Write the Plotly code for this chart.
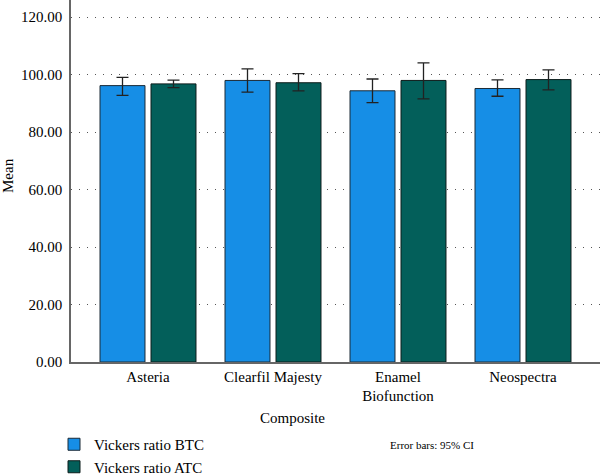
import plotly.graph_objects as go

categories = ["Asteria", "Clearfil Majesty", "Enamel<br>Biofunction", "Neospectra"]
btc_mean = [96.2, 98.0, 94.4, 95.2]
btc_upper = [99.1, 102.0, 98.5, 98.2]
btc_lower = [92.8, 93.9, 90.3, 92.5]
atc_mean = [96.8, 97.2, 98.0, 98.3]
atc_upper = [98.1, 100.4, 104.1, 101.7]
atc_lower = [95.5, 94.4, 91.6, 94.7]
y_ticks = [0, 20, 40, 60, 80, 100, 120]

FONT = "Liberation Serif"

def err(mean, up, lo, color="#222"):
    return dict(type="data", symmetric=False,
                array=[u - m for u, m in zip(up, mean)],
                arrayminus=[m - l for m, l in zip(mean, lo)],
                color=color, thickness=1.3, width=6)

fig = go.Figure()
fig.add_trace(go.Bar(x=categories, y=btc_mean, name="Vickers ratio BTC",
                     marker=dict(color="#168ee6", line=dict(color="#1b2a36", width=1)),
                     error_y=err(btc_mean, btc_upper, btc_lower)))
fig.add_trace(go.Bar(x=categories, y=atc_mean, name="Vickers ratio ATC",
                     marker=dict(color="#035f5a", line=dict(color="#0d1c1b", width=1)),
                     error_y=err(atc_mean, atc_upper, atc_lower)))

fig.update_layout(
    width=600, height=474,
    margin=dict(l=71, r=0, t=0, b=112, autoexpand=False),
    paper_bgcolor="white", plot_bgcolor="white",
    font=dict(family=FONT, size=15, color="#000"),
    barmode="group", bargap=0.184, bargroupgap=0.118,
    showlegend=True,
    legend=dict(xref="container", yref="container", x=0.09, y=(474 - 428) / 474,
                xanchor="left", yanchor="top", font=dict(size=15, family=FONT),
                bgcolor="rgba(0,0,0,0)", tracegroupgap=0, itemwidth=30),
    xaxis=dict(range=[-0.616, 3.616], showline=True, linecolor="#666", linewidth=1.5,
               ticks="", showgrid=False, tickfont=dict(size=15, family=FONT),
               tickangle=0, automargin=False),
    yaxis=dict(range=[0, 126], tickvals=y_ticks, ticktext=[f"{v:.2f}" for v in y_ticks],
               showline=True, linecolor="#666", linewidth=1.5, ticks="",
               showgrid=True, gridcolor="#555", gridwidth=1, griddash="1px,7px",
               zeroline=False, tickfont=dict(size=15, family=FONT), ticklabelstandoff=4,
               automargin=False),
    annotations=[
        dict(text="Mean", xref="paper", yref="paper", x=(8 - 71) / 529, y=(362 - 176) / 362,
             textangle=-90, showarrow=False, font=dict(size=15, family=FONT),
             xanchor="center", yanchor="middle"),
        dict(text="Composite", xref="paper", yref="paper", x=(292 - 71) / 529, y=-(418 - 362) / 362,
             showarrow=False, font=dict(size=15, family=FONT), xanchor="center", yanchor="middle"),
        dict(text="Error bars: 95% CI", xref="paper", yref="paper", x=(388 - 71) / 529,
             y=-(445 - 362) / 362, showarrow=False, font=dict(size=11, family=FONT),
             xanchor="left", yanchor="middle"),
    ],
)

fig.write_html("out.html")
